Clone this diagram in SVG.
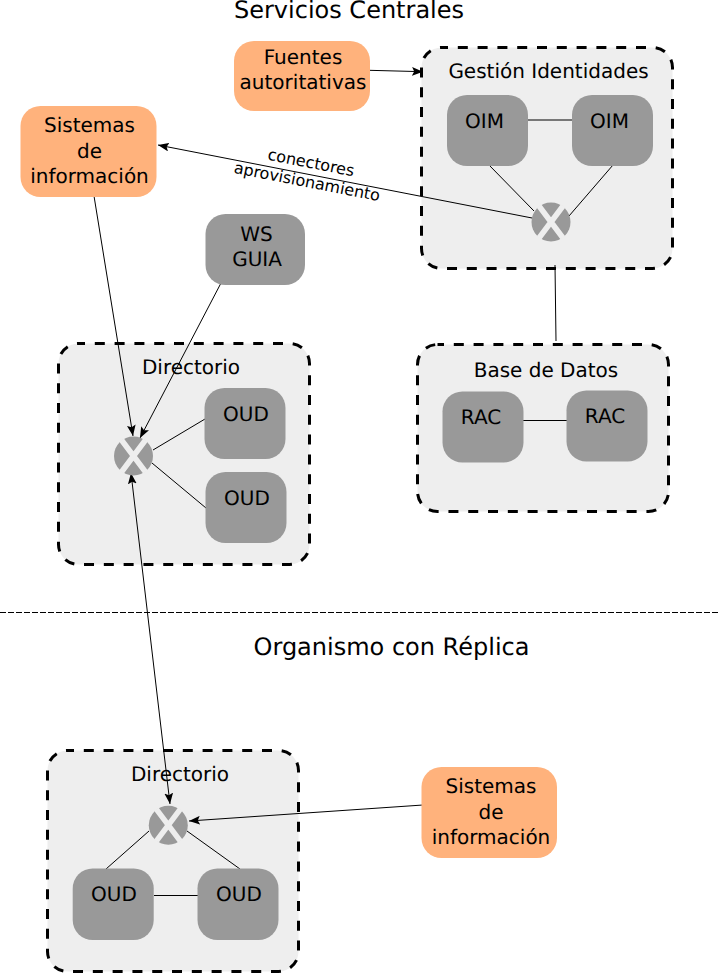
<svg xmlns="http://www.w3.org/2000/svg" width="720" height="973" viewBox="0 0 720 973">
<style>
text{font-family:"DejaVu Sans",sans-serif;fill:#000;text-anchor:middle;text-rendering:geometricPrecision}
.t{font-size:24px}.l{font-size:20px}.s{font-size:16px}
.zone{fill:#eee;stroke:#000;stroke-width:3;stroke-dasharray:10 9.800;stroke-dashoffset:3.500}
.srv{fill:#999}.org{fill:#ffb27c}
.c{fill:none;stroke:#000;stroke-width:1}
.x{stroke:#eee;stroke-width:5.500}
</style>
<defs>
<marker id="a" viewBox="0 0 10 8" refX="10" refY="4" markerWidth="11" markerHeight="8.800" markerUnits="userSpaceOnUse" orient="auto-start-reverse"><path d="M0 0L10 4L0 8L2 4Z" fill="#000"/></marker>
<g id="xn"><circle r="19.500" class="srv"/><path class="x" d="M-12-16L12 16M12-16L-12 16"/></g>
</defs>
<text class="t" x="349" y="18.300">Servicios Centrales</text>
<text class="t" x="391.500" y="655">Organismo con Réplica</text>
<g id="zones">
<rect id="z-gestion" class="zone" x="421.500" y="47.500" width="251" height="221" rx="20"/>
<rect id="z-bd" class="zone" x="417.500" y="344.500" width="251" height="167" rx="20"/>
<rect id="z-dir1" class="zone" x="58.500" y="343.500" width="251" height="221" rx="20"/>
<rect id="z-dir2" class="zone" x="47.500" y="750.500" width="251" height="221" rx="20"/>
</g>
<g id="connectors">
<path class="c" d="M0 612.500H718" stroke-dasharray="6 2"/>
<path class="c" marker-end="url(#a)" d="M369 70.300L423 71.700"/>
<path class="c" marker-end="url(#a)" d="M532 218L158 145"/>
<path class="c" d="M528 120H572M489 165L534 211M613 165L569 216M555 265L556 341M523 420.500H567"/>
<path class="c" marker-end="url(#a)" d="M94 196L133 436"/>
<path class="c" marker-end="url(#a)" d="M221 283L140 438"/>
<path class="c" d="M153 450L205 419M152 463L206 508"/>
<path class="c" marker-start="url(#a)" marker-end="url(#a)" d="M131 473L170 804"/>
<path class="c" marker-end="url(#a)" d="M423 805L189 821"/>
<path class="c" d="M149 831L106 869M187 831L240 869M154 895.500H198"/>
</g>
<g id="n-fuentes"><rect class="org" x="234" y="41" width="136" height="70" rx="20"/><text class="l" x="303" y="64.400">Fuentes</text><text class="l" x="303" y="89.400">autoritativas</text></g>
<g id="n-gestion-label"><text class="l" x="548.500" y="77.600">Gestión Identidades</text></g>
<g id="n-oim1"><rect class="srv" x="447" y="95" width="81" height="71" rx="20"/><text class="l" x="484.500" y="127.600">OIM</text></g>
<g id="n-oim2"><rect class="srv" x="572" y="95" width="81" height="71" rx="20"/><text class="l" x="609.500" y="127.600">OIM</text></g>
<g id="n-xoim"><use href="#xn" x="551" y="222"/></g>
<g id="n-sis1"><rect class="org" x="20.500" y="106" width="136" height="91" rx="20"/><text class="l" x="89.500" y="132.400">Sistemas</text><text class="l" x="89.500" y="157.500">de</text><text class="l" x="89.500" y="182.600">información</text></g>
<g id="e-label"><text class="s" transform="translate(310 168) rotate(11)">conectores</text><text class="s" transform="translate(306 187) rotate(11)">aprovisionamiento</text></g>
<g id="n-ws"><rect class="srv" x="205.500" y="214" width="99.500" height="71" rx="20"/><text class="l" x="256.500" y="240.500">WS</text><text class="l" x="257" y="265.500">GUIA</text></g>
<g id="n-bd-label"><text class="l" x="546" y="377">Base de Datos</text></g>
<g id="n-rac1"><rect class="srv" x="442.500" y="391.500" width="81" height="71" rx="20"/><text class="l" x="481" y="424.300">RAC</text></g>
<g id="n-rac2"><rect class="srv" x="566.500" y="390.500" width="81" height="71" rx="20"/><text class="l" x="605" y="423.300">RAC</text></g>
<g id="n-dir1-label"><text class="l" x="191" y="374.300">Directorio</text></g>
<g id="n-xdir1"><use href="#xn" x="133.500" y="456"/></g>
<g id="n-oud1"><rect class="srv" x="204.500" y="388" width="81" height="71" rx="20"/><text class="l" x="246" y="420.500">OUD</text></g>
<g id="n-oud2"><rect class="srv" x="205.500" y="472" width="81" height="71" rx="20"/><text class="l" x="247" y="504.500">OUD</text></g>
<g id="n-dir2-label"><text class="l" x="180" y="781.300">Directorio</text></g>
<g id="n-xdir2"><use href="#xn" x="168.300" y="825.200"/></g>
<g id="n-sis2"><rect class="org" x="421.500" y="767" width="135.500" height="91" rx="20"/><text class="l" x="491" y="793.400">Sistemas</text><text class="l" x="491" y="818.500">de</text><text class="l" x="491" y="843.600">información</text></g>
<g id="n-oud3"><rect class="srv" x="72.700" y="868.500" width="81" height="71.500" rx="20"/><text class="l" x="114" y="901.300">OUD</text></g>
<g id="n-oud4"><rect class="srv" x="197.500" y="868.500" width="81" height="71.500" rx="20"/><text class="l" x="239" y="901.300">OUD</text></g>
</svg>
